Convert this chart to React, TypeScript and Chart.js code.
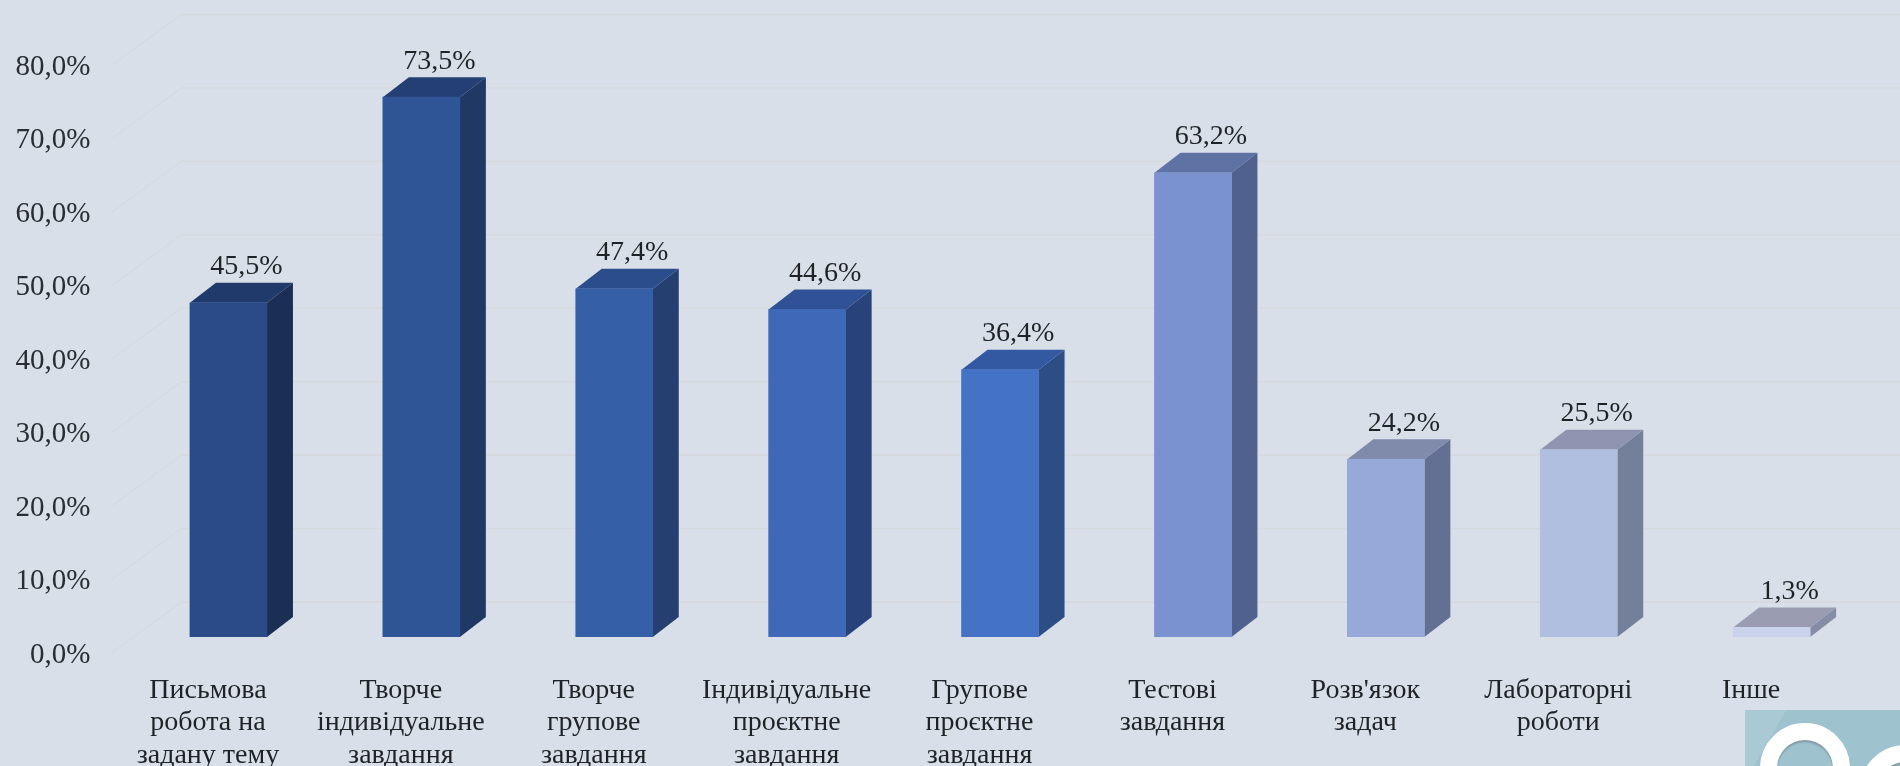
import React, { useEffect, useRef } from "react";
import { Chart, registerables } from "chart.js";

Chart.register(...registerables);

const categories = [
  ["Письмова", "робота на", "задану тему"],
  ["Творче", "індивідуальне", "завдання"],
  ["Творче", "групове", "завдання"],
  ["Індивідуальне", "проєктне", "завдання"],
  ["Групове", "проєктне", "завдання"],
  ["Тестові", "завдання"],
  ["Розв'язок", "задач"],
  ["Лабораторні", "роботи"],
  ["Інше"],
];
const values = [45.5, 73.5, 47.4, 44.6, 36.4, 63.2, 24.2, 25.5, 1.3];
const frontColors = ["#2b4b88", "#2f5597", "#3560a8", "#3f69b8", "#4472c4", "#7a92d0", "#97a9d8", "#b0bfdf", "#c9d4ec"];
const sideColors = ["#1b2f55", "#203864", "#243f70", "#27437a", "#2d4d85", "#4f618c", "#636f93", "#747f99", "#858ca5"];
const topColors = ["#1f3a6b", "#243f73", "#2b4d8c", "#2f5296", "#3259a1", "#5f72a4", "#808aab", "#8f94b1", "#9a9db2"];

const FONT = '"Liberation Serif", "Times New Roman", serif';
const comma = (v: number) => v.toFixed(1).replace(".", ",") + "%";

const scene = {
  id: "scene",
  beforeDatasetsDraw(chart: any) {
    const { ctx, scales, chartArea } = chart;
    const y = scales.y;
    ctx.save();
    for (const t of y.ticks) {
      const py = y.getPixelForValue(t.value);
      ctx.lineWidth = 1;
      ctx.strokeStyle = "#d3d8de";
      ctx.beginPath();
      ctx.moveTo(chartArea.left, py);
      ctx.lineTo(chartArea.left + 70, py - 51);
      ctx.stroke();
      ctx.lineWidth = 1.5;
      ctx.strokeStyle = "#d6d9dd";
      ctx.beginPath();
      ctx.moveTo(chartArea.left + 70, py - 51);
      ctx.lineTo(1900, py - 51);
      ctx.stroke();
    }
    ctx.restore();
    // bars are drawn by the library in the bar plane, set back from the axis plane
    ctx.save();
    ctx.translate(20.5, -16);
    const meta = chart.getDatasetMeta(0);
    meta.data.forEach((b: any, i: number) => {
      const l = b.x - b.width / 2;
      const r = b.x + b.width / 2;
      const dx = 26;
      const dy = 20;
      ctx.fillStyle = sideColors[i];
      ctx.beginPath();
      ctx.moveTo(r, b.y);
      ctx.lineTo(r + dx, b.y - dy);
      ctx.lineTo(r + dx, b.base - dy);
      ctx.lineTo(r, b.base);
      ctx.closePath();
      ctx.fill();
      ctx.fillStyle = topColors[i];
      ctx.beginPath();
      ctx.moveTo(l, b.y);
      ctx.lineTo(l + dx, b.y - dy);
      ctx.lineTo(r + dx, b.y - dy);
      ctx.lineTo(r, b.y);
      ctx.closePath();
      ctx.fill();
    });
  },
  afterDatasetsDraw(chart: any) {
    const { ctx } = chart;
    ctx.restore();
    ctx.save();
    ctx.font = "28px " + FONT;
    ctx.fillStyle = "#1f2226";
    ctx.textAlign = "center";
    ctx.textBaseline = "middle";
    chart.getDatasetMeta(0).data.forEach((b: any, i: number) => {
      ctx.fillText(comma(values[i]), b.x + 20.5 + 18, b.y - 16 - 36);
    });
    ctx.restore();
  },
};

export default function App() {
  const ref = useRef<HTMLCanvasElement>(null);
  useEffect(() => {
    document.body.style.margin = "0";
    document.body.style.background = "#d8dfe8";
    const chart = new Chart(ref.current!, {
      type: "bar",
      data: {
        labels: categories,
        datasets: [
          {
            data: values,
            backgroundColor: frontColors,
            barThickness: 77,
            borderWidth: 0,
          },
        ],
      },
      plugins: [scene],
      options: {
        animation: false,
        responsive: false,
        layout: { padding: { top: 65.4, right: 52.4, left: 0, bottom: 0 } },
        plugins: { legend: { display: false }, title: { display: false }, tooltip: { enabled: false } },
        scales: {
          x: {
            grid: { display: false },
            border: { display: false },
            afterFit: (s: any) => { s.height = 113; },
            ticks: {
              maxRotation: 0,
              autoSkip: false,
              padding: 13,
              color: "#1f2226",
              font: { family: FONT, size: 28, lineHeight: 1.17 },
            },
          },
          y: {
            min: 0,
            max: 80,
            grid: { display: false },
            border: { display: false },
            afterFit: (s: any) => { s.width = 111.5; },
            ticks: {
              stepSize: 10,
              padding: 13,
              labelOffset: 2,
              color: "#2a2d33",
              font: { family: FONT, size: 29 },
              callback: (v: any) => comma(Number(v)),
            },
          },
        },
      },
    } as any);
    return () => chart.destroy();
  }, []);
  const ring = { position: "absolute", width: 56, height: 56, border: "17px solid #fff", borderRadius: "50%", boxShadow: "inset 0 2px 2px #7f9aa0" } as const;
  return (
    <div style={{ position: "relative", width: 1900, height: 766, overflow: "hidden", background: "#d8dfe8" }}>
      <canvas ref={ref} width={1900} height={766} style={{ display: "block" }} />
      <div style={{ position: "absolute", left: 1745, top: 710, width: 155, height: 56, background: "linear-gradient(120deg, #a9c9d5 0 22%, #9fc2cf 22%)", overflow: "hidden" }}>
        <div style={{ ...ring, left: 15, top: 13 }} />
        <div style={{ ...ring, left: 115, top: 35 }} />
      </div>
    </div>
  );
}
